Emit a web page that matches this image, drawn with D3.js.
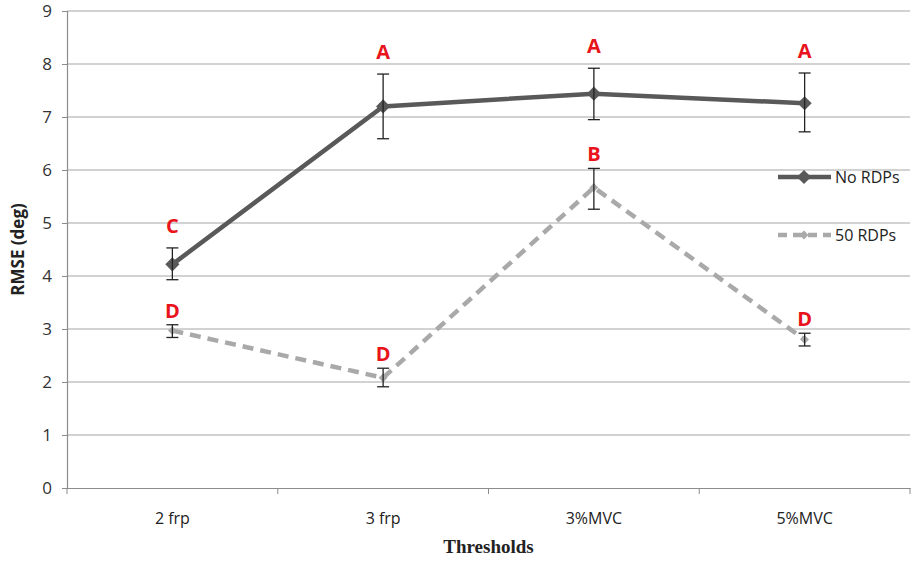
<!DOCTYPE html>
<html>
<head>
<meta charset="utf-8">
<style>
    body { margin: 0; background: white; }
    svg { display: block; }
    .tick text { font-family: 'Open Sans', sans-serif; }
</style>
</head>
<body>
<svg width="913" height="561"></svg>
<script src="https://d3js.org/d3.v7.min.js"></script>
<script>
    // data
    let categories = ["2 frp", "3 frp", "3%MVC", "5%MVC"]
    let noRdpMean = [4.22, 7.2, 7.44, 7.26]
    let noRdpLow = [3.93, 6.59, 6.95, 6.72]
    let noRdpHigh = [4.53, 7.81, 7.92, 7.83]
    let noRdpLetters = ["C", "A", "A", "A"]
    let rdpMean = [2.97, 2.08, 5.67, 2.8]
    let rdpLow = [2.84, 1.91, 5.26, 2.68]
    let rdpHigh = [3.08, 2.26, 6.03, 2.92]
    let rdpLetters = ["D", "D", "B", "D"]
    let yTicks = [0, 1, 2, 3, 4, 5, 6, 7, 8, 9]

    let series = [
        { name: "No RDPs", mean: noRdpMean, low: noRdpLow, high: noRdpHigh, letters: noRdpLetters,
          color: "#595959", dash: null, marker: 8, letterGap: 23 },
        { name: "50 RDPs", mean: rdpMean, low: rdpLow, high: rdpHigh, letters: rdpLetters,
          color: "#a9a9a9", dash: "11,7", marker: 5, letterGap: 15 }
    ]

    let svg = d3.select("svg")
    let plotLeft = 67, plotRight = 910, plotTop = 11, plotBottom = 488

    let x = d3.scaleBand().domain(categories).range([plotLeft, plotRight])
    let y = d3.scaleLinear().domain([0, 9]).range([plotBottom, plotTop])

    // gridlines
    svg.append("g")
        .selectAll("line")
        .data(yTicks.filter(d => d > 0))
        .join("line")
        .attr("x1", plotLeft).attr("x2", plotRight)
        .attr("y1", d => y(d)).attr("y2", d => y(d))
        .attr("stroke", "#a6a6a6")
        .attr("stroke-width", 1.2)

    // y axis
    let yAxis = svg.append("g")
        .attr("transform", `translate(${plotLeft},0)`)
        .call(d3.axisLeft(y).tickValues(yTicks).tickSize(5).tickPadding(10).tickFormat(d3.format("d")))
    yAxis.select(".domain").attr("stroke", "#8c8c8c").attr("stroke-width", 1.2)
    yAxis.selectAll(".tick line").attr("stroke", "#8c8c8c")
    yAxis.selectAll(".tick text").attr("font-size", 17).attr("fill", "#333")

    // x axis
    let xAxis = svg.append("g")
        .attr("transform", `translate(0,${plotBottom})`)
        .call(d3.axisBottom(x).tickSize(0).tickPadding(25))
    xAxis.select(".domain").attr("stroke", "#8c8c8c").attr("stroke-width", 1.2)
    xAxis.selectAll(".tick text").attr("font-size", 16).attr("fill", "#222")
    xAxis.append("g")
        .selectAll("line")
        .data(categories.map((c, i) => i).concat([categories.length]))
        .join("line")
        .attr("x1", i => plotLeft + i * x.bandwidth())
        .attr("x2", i => plotLeft + i * x.bandwidth())
        .attr("y1", 0).attr("y2", 6)
        .attr("stroke", "#8c8c8c")

    // axis titles
    svg.append("text")
        .attr("transform", `translate(24,${(plotTop + plotBottom) / 2}) rotate(-90)`)
        .attr("text-anchor", "middle")
        .attr("font-family", "'Open Sans', sans-serif")
        .attr("font-weight", "bold")
        .attr("font-size", 17)
        .attr("fill", "#222")
        .text("RMSE (deg)")

    svg.append("text")
        .attr("x", (plotLeft + plotRight) / 2)
        .attr("y", 553)
        .attr("text-anchor", "middle")
        .attr("font-family", "'Liberation Serif', serif")
        .attr("font-weight", "bold")
        .attr("font-size", 19)
        .attr("fill", "#222")
        .text("Thresholds")

    let cx = c => x(c) + x.bandwidth() / 2
    let diamond = d3.symbol().type(d3.symbolDiamond2)

    series.slice().reverse().forEach(s => {
        let pts = categories.map((c, i) => ({ c: c, v: s.mean[i], lo: s.low[i], hi: s.high[i], l: s.letters[i] }))
        let g = svg.append("g")

        g.append("path")
            .datum(pts)
            .attr("fill", "none")
            .attr("stroke", s.color)
            .attr("stroke-width", 4.5)
            .attr("stroke-dasharray", s.dash)
            .attr("d", d3.line().x(d => cx(d.c)).y(d => y(d.v)))

        g.selectAll(".mk")
            .data(pts)
            .join("path")
            .attr("class", "mk")
            .attr("transform", d => `translate(${cx(d.c)},${y(d.v)})`)
            .attr("d", diamond.size(s.marker * s.marker * 2))
            .attr("fill", s.color)

        // error bars
        let eb = g.selectAll(".eb").data(pts).join("g").attr("class", "eb")
        eb.append("line")
            .attr("x1", d => cx(d.c)).attr("x2", d => cx(d.c))
            .attr("y1", d => y(d.lo)).attr("y2", d => y(d.hi))
            .attr("stroke", "#222").attr("stroke-width", 1.3)
        eb.append("line")
            .attr("x1", d => cx(d.c) - 6).attr("x2", d => cx(d.c) + 6)
            .attr("y1", d => y(d.lo)).attr("y2", d => y(d.lo))
            .attr("stroke", "#222").attr("stroke-width", 1.3)
        eb.append("line")
            .attr("x1", d => cx(d.c) - 6).attr("x2", d => cx(d.c) + 6)
            .attr("y1", d => y(d.hi)).attr("y2", d => y(d.hi))
            .attr("stroke", "#222").attr("stroke-width", 1.3)

        g.selectAll(".lt")
            .data(pts)
            .join("text")
            .attr("class", "lt")
            .attr("x", d => cx(d.c))
            .attr("y", d => y(d.hi) - s.letterGap + 8)
            .attr("text-anchor", "middle")
            .attr("font-family", "'Open Sans', sans-serif")
            .attr("font-weight", "bold")
            .attr("font-size", 20)
            .attr("fill", "#e8131b")
            .text(d => d.l)
    })

    // legend
    let legend = svg.append("g")
        .selectAll("g")
        .data(series)
        .join("g")
        .attr("transform", (d, i) => `translate(778,${177 + i * 58})`)
    legend.append("line")
        .attr("x1", 0).attr("x2", 53)
        .attr("stroke", d => d.color)
        .attr("stroke-width", 4.5)
        .attr("stroke-dasharray", d => d.dash ? "9,6" : null)
    legend.append("path")
        .attr("transform", "translate(26,0)")
        .attr("d", d => diamond.size(d.marker * d.marker * 2)())
        .attr("fill", d => d.color)
    legend.append("text")
        .attr("x", 57)
        .attr("y", 6)
        .attr("font-family", "'Open Sans', sans-serif")
        .attr("font-size", 16)
        .attr("fill", "#222")
        .text(d => d.name)
</script>
</body>
</html>
